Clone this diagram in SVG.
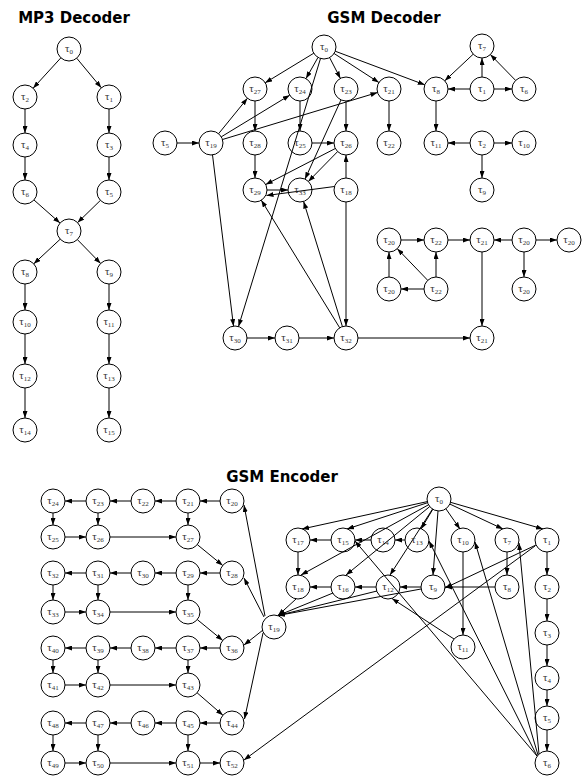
<svg xmlns="http://www.w3.org/2000/svg" width="583" height="776" viewBox="0 0 583 776">
<style>
.title{font-family:"DejaVu Sans",Verdana,sans-serif;font-weight:bold;font-size:15px;fill:#000;text-anchor:middle}
.node circle{fill:none;stroke:#000;stroke-width:1}
.node text{font-family:"Liberation Serif","Times New Roman",serif;font-size:11px;fill:#333;text-anchor:middle}
.node tspan{font-size:7px}
#connectors path{fill:none;stroke:#000;stroke-width:1}
</style>
<defs>
<marker id="a" viewBox="0 0 7 5" refX="7" refY="2.5" markerWidth="7" markerHeight="5" orient="auto" markerUnits="userSpaceOnUse"><path d="M0,0 L7,2.5 L0,5 z" fill="#000"/></marker>
</defs>
<rect width="583" height="776" fill="#fff"/>
<text class="title" x="74" y="23">MP3 Decoder</text>
<text class="title" x="384" y="23">GSM Decoder</text>
<text class="title" x="282" y="482">GSM Encoder</text>

<g id="connectors" marker-end="url(#a)">
<!-- MP3 -->
<path d="M60.9 57.8L33.1 88.2"/>
<path d="M76.7 58.2L101.3 87.8"/>
<path d="M25 109L25 133"/>
<path d="M25 157L25 180"/>
<path d="M109 109L109 133"/>
<path d="M109 157L109 180"/>
<path d="M34 200L60 223"/>
<path d="M100.4 200.4L77.6 222.6"/>
<path d="M60.2 239.2L33.8 263.8"/>
<path d="M77.4 239.6L100.6 263.4"/>
<path d="M25 284L25 310"/>
<path d="M25 334L25 364"/>
<path d="M25 388L25 418"/>
<path d="M109 284L109 310"/>
<path d="M109 334L109 364"/>
<path d="M109 388L109 418"/>
<!-- GSM decoder -->
<path d="M313.8 53.2L265.2 82.8"/>
<path d="M318 57.4L306 78.6"/>
<path d="M329.6 57.6L340.4 78.4"/>
<path d="M334.1 53.5L378.9 82.5"/>
<path d="M335.2 51.2L424.8 84.8"/>
<path d="M320.5 58.5L238.5 326.5"/>
<path d="M177 143L199 143"/>
<path d="M218.6 133.7L247.4 98.3"/>
<path d="M221.3 136.8L289.7 95.2"/>
<path d="M222.5 139.5L377.5 92.5"/>
<path d="M212.5 154.9L233.5 326.1"/>
<path d="M255 101L255 131"/>
<path d="M255 155L255 178"/>
<path d="M300 101L300 131"/>
<path d="M312 143L334 143"/>
<path d="M346 101L346 131"/>
<path d="M341 99.9L305 179.1"/>
<path d="M335.3 148.5L265.7 184.5"/>
<path d="M337.6 151.6L308.4 181.4"/>
<path d="M267 190L288 190"/>
<path d="M346 178L346 155"/>
<path d="M334.5 186.5L266.5 195.5"/>
<path d="M339.7 327.8L261.3 200.2"/>
<path d="M342.4 326.5L303.6 201.5"/>
<path d="M346 202L346 326"/>
<path d="M247 338L275 338"/>
<path d="M299 338L334 338"/>
<path d="M358 338L470 338"/>
<path d="M482 77L482 58"/>
<path d="M470 89L448 89"/>
<path d="M494 89L512 89"/>
<path d="M473.2 54.2L444.8 80.8"/>
<path d="M515.6 80.4L490.4 54.6"/>
<path d="M436 101L436 131"/>
<path d="M389 101L389 131"/>
<path d="M470 143L448 143"/>
<path d="M494 143L512 143"/>
<path d="M482 155L482 178"/>
<path d="M401 240L424 240"/>
<path d="M448 240L470 240"/>
<path d="M512 240L494 240"/>
<path d="M536 240L557 240"/>
<path d="M524 252L524 277"/>
<path d="M389 277L389 252"/>
<path d="M436 277L436 252"/>
<path d="M424 289L401 289"/>
<path d="M427.7 280.3L397.3 248.7"/>
<path d="M482 252L482 326"/>
<!-- GSM encoder left grid -->
<path d="M220 501L200 501"/>
<path d="M176 501L155 501"/>
<path d="M131 501L110 501"/>
<path d="M86 501L65 501"/>
<path d="M53 513L53 525"/>
<path d="M98 513L98 525"/>
<path d="M188 513L188 525"/>
<path d="M65 537L86 537"/>
<path d="M110 537L176 537"/>
<path d="M197.3 544.6L222.7 565.4"/>
<path d="M220 573L200 573"/>
<path d="M176 573L155 573"/>
<path d="M131 573L110 573"/>
<path d="M86 573L65 573"/>
<path d="M53 585L53 600"/>
<path d="M98 585L98 600"/>
<path d="M188 585L188 600"/>
<path d="M65 612L86 612"/>
<path d="M110 612L176 612"/>
<path d="M197.3 619.6L222.7 640.4"/>
<path d="M220 648L200 648"/>
<path d="M176 648L155 648"/>
<path d="M131 648L110 648"/>
<path d="M86 648L65 648"/>
<path d="M53 660L53 673"/>
<path d="M98 660L98 673"/>
<path d="M188 660L188 673"/>
<path d="M65 685L86 685"/>
<path d="M110 685L176 685"/>
<path d="M197.1 692.8L222.9 715.2"/>
<path d="M220 723L200 723"/>
<path d="M176 723L155 723"/>
<path d="M131 723L110 723"/>
<path d="M86 723L65 723"/>
<path d="M53 735L53 751"/>
<path d="M98 735L98 751"/>
<path d="M188 735L188 751"/>
<path d="M65 763L86 763"/>
<path d="M110 763L176 763"/>
<path d="M200 763L220 763"/>
<!-- tau19 -->
<path d="M265 616L244 505"/>
<path d="M264 617L244 578"/>
<path d="M263 630L244 645"/>
<path d="M263 633L244.5 719"/>
<path d="M296 599L278 615.5"/>
<path d="M333 593L278 615.5"/>
<path d="M377 591L278 615.5"/>
<path d="M421 589L278 615.5"/>
<!-- tau0 encoder -->
<path d="M427.3 501.6L302 529"/>
<path d="M427.6 502.7L347 529"/>
<path d="M432.8 509.3L421 529"/>
<path d="M428.5 504.8L301 575"/>
<path d="M429.7 506.6L346 575"/>
<path d="M432.5 509.1L390 575"/>
<path d="M438 511L433 575"/>
<path d="M445.9 508.8L460 529"/>
<path d="M449.9 504.1L503 529"/>
<path d="M450.5 502.3L543 529"/>
<!-- rows -->
<path d="M298 552L298 575"/>
<path d="M331 540L310 540"/>
<path d="M371 540L355 540"/>
<path d="M405 540L395 540"/>
<path d="M331 587L310 587"/>
<path d="M376 587L355 587"/>
<path d="M421 587L400 587"/>
<path d="M495 587L445 587"/>
<path d="M507 552L507 575"/>
<path d="M463 552L463 635"/>
<path d="M547 552L547 575"/>
<path d="M547 599L547 621"/>
<path d="M547 645L547 666"/>
<path d="M547 690L547 706"/>
<path d="M547 730L547 751"/>
<path d="M536 545L445 588"/>
<path d="M535 546L244 760"/>
<path d="M454 639L392 598.5"/>
<path d="M537 756L355 541"/>
<path d="M537 756L429 541"/>
<path d="M538 755L475 542"/>
<path d="M539 754L519 543"/>
</g>

<!-- MP3 nodes -->
<g id="mp3-t0" class="node"><circle cx="69" cy="49" r="12"/><text x="69" y="51.5">τ<tspan dy="2.5">0</tspan></text></g>
<g id="mp3-t1" class="node"><circle cx="109" cy="97" r="12"/><text x="109" y="99.5">τ<tspan dy="2.5">1</tspan></text></g>
<g id="mp3-t2" class="node"><circle cx="25" cy="97" r="12"/><text x="25" y="99.5">τ<tspan dy="2.5">2</tspan></text></g>
<g id="mp3-t3" class="node"><circle cx="109" cy="145" r="12"/><text x="109" y="147.5">τ<tspan dy="2.5">3</tspan></text></g>
<g id="mp3-t4" class="node"><circle cx="25" cy="145" r="12"/><text x="25" y="147.5">τ<tspan dy="2.5">4</tspan></text></g>
<g id="mp3-t5" class="node"><circle cx="109" cy="192" r="12"/><text x="109" y="194.5">τ<tspan dy="2.5">5</tspan></text></g>
<g id="mp3-t6" class="node"><circle cx="25" cy="192" r="12"/><text x="25" y="194.5">τ<tspan dy="2.5">6</tspan></text></g>
<g id="mp3-t7" class="node"><circle cx="69" cy="231" r="12"/><text x="69" y="233.5">τ<tspan dy="2.5">7</tspan></text></g>
<g id="mp3-t8" class="node"><circle cx="25" cy="272" r="12"/><text x="25" y="274.5">τ<tspan dy="2.5">8</tspan></text></g>
<g id="mp3-t9" class="node"><circle cx="109" cy="272" r="12"/><text x="109" y="274.5">τ<tspan dy="2.5">9</tspan></text></g>
<g id="mp3-t10" class="node"><circle cx="25" cy="322" r="12"/><text x="25" y="324.5">τ<tspan dy="2.5">10</tspan></text></g>
<g id="mp3-t11" class="node"><circle cx="109" cy="322" r="12"/><text x="109" y="324.5">τ<tspan dy="2.5">11</tspan></text></g>
<g id="mp3-t12" class="node"><circle cx="25" cy="376" r="12"/><text x="25" y="378.5">τ<tspan dy="2.5">12</tspan></text></g>
<g id="mp3-t13" class="node"><circle cx="109" cy="376" r="12"/><text x="109" y="378.5">τ<tspan dy="2.5">13</tspan></text></g>
<g id="mp3-t14" class="node"><circle cx="25" cy="430" r="12"/><text x="25" y="432.5">τ<tspan dy="2.5">14</tspan></text></g>
<g id="mp3-t15" class="node"><circle cx="109" cy="430" r="12"/><text x="109" y="432.5">τ<tspan dy="2.5">15</tspan></text></g>

<!-- GSM decoder nodes -->
<g id="dec-t0" class="node"><circle cx="324" cy="47" r="12"/><text x="324" y="49.5">τ<tspan dy="2.5">0</tspan></text></g>
<g id="dec-t27" class="node"><circle cx="255" cy="89" r="12"/><text x="255" y="91.5">τ<tspan dy="2.5">27</tspan></text></g>
<g id="dec-t24" class="node"><circle cx="300" cy="89" r="12"/><text x="300" y="91.5">τ<tspan dy="2.5">24</tspan></text></g>
<g id="dec-t23" class="node"><circle cx="346" cy="89" r="12"/><text x="346" y="91.5">τ<tspan dy="2.5">23</tspan></text></g>
<g id="dec-t21a" class="node"><circle cx="389" cy="89" r="12"/><text x="389" y="91.5">τ<tspan dy="2.5">21</tspan></text></g>
<g id="dec-t8" class="node"><circle cx="436" cy="89" r="12"/><text x="436" y="91.5">τ<tspan dy="2.5">8</tspan></text></g>
<g id="dec-t1" class="node"><circle cx="482" cy="89" r="12"/><text x="482" y="91.5">τ<tspan dy="2.5">1</tspan></text></g>
<g id="dec-t6" class="node"><circle cx="524" cy="89" r="12"/><text x="524" y="91.5">τ<tspan dy="2.5">6</tspan></text></g>
<g id="dec-t7" class="node"><circle cx="482" cy="46" r="12"/><text x="482" y="48.5">τ<tspan dy="2.5">7</tspan></text></g>
<g id="dec-t5" class="node"><circle cx="165" cy="143" r="12"/><text x="165" y="145.5">τ<tspan dy="2.5">5</tspan></text></g>
<g id="dec-t19" class="node"><circle cx="211" cy="143" r="12"/><text x="211" y="145.5">τ<tspan dy="2.5">19</tspan></text></g>
<g id="dec-t28" class="node"><circle cx="255" cy="143" r="12"/><text x="255" y="145.5">τ<tspan dy="2.5">28</tspan></text></g>
<g id="dec-t25" class="node"><circle cx="300" cy="143" r="12"/><text x="300" y="145.5">τ<tspan dy="2.5">25</tspan></text></g>
<g id="dec-t26" class="node"><circle cx="346" cy="143" r="12"/><text x="346" y="145.5">τ<tspan dy="2.5">26</tspan></text></g>
<g id="dec-t22a" class="node"><circle cx="389" cy="143" r="12"/><text x="389" y="145.5">τ<tspan dy="2.5">22</tspan></text></g>
<g id="dec-t11" class="node"><circle cx="436" cy="143" r="12"/><text x="436" y="145.5">τ<tspan dy="2.5">11</tspan></text></g>
<g id="dec-t2" class="node"><circle cx="482" cy="143" r="12"/><text x="482" y="145.5">τ<tspan dy="2.5">2</tspan></text></g>
<g id="dec-t10" class="node"><circle cx="524" cy="143" r="12"/><text x="524" y="145.5">τ<tspan dy="2.5">10</tspan></text></g>
<g id="dec-t29" class="node"><circle cx="255" cy="190" r="12"/><text x="255" y="192.5">τ<tspan dy="2.5">29</tspan></text></g>
<g id="dec-t33" class="node"><circle cx="300" cy="190" r="12"/><text x="300" y="192.5">τ<tspan dy="2.5">33</tspan></text></g>
<g id="dec-t18" class="node"><circle cx="346" cy="190" r="12"/><text x="346" y="192.5">τ<tspan dy="2.5">18</tspan></text></g>
<g id="dec-t9" class="node"><circle cx="482" cy="190" r="12"/><text x="482" y="192.5">τ<tspan dy="2.5">9</tspan></text></g>
<g id="dec-t20a" class="node"><circle cx="389" cy="240" r="12"/><text x="389" y="242.5">τ<tspan dy="2.5">20</tspan></text></g>
<g id="dec-t22b" class="node"><circle cx="436" cy="240" r="12"/><text x="436" y="242.5">τ<tspan dy="2.5">22</tspan></text></g>
<g id="dec-t21b" class="node"><circle cx="482" cy="240" r="12"/><text x="482" y="242.5">τ<tspan dy="2.5">21</tspan></text></g>
<g id="dec-t20b" class="node"><circle cx="524" cy="240" r="12"/><text x="524" y="242.5">τ<tspan dy="2.5">20</tspan></text></g>
<g id="dec-t20c" class="node"><circle cx="569" cy="240" r="12"/><text x="569" y="242.5">τ<tspan dy="2.5">20</tspan></text></g>
<g id="dec-t20d" class="node"><circle cx="389" cy="289" r="12"/><text x="389" y="291.5">τ<tspan dy="2.5">20</tspan></text></g>
<g id="dec-t22c" class="node"><circle cx="436" cy="289" r="12"/><text x="436" y="291.5">τ<tspan dy="2.5">22</tspan></text></g>
<g id="dec-t20e" class="node"><circle cx="524" cy="289" r="12"/><text x="524" y="291.5">τ<tspan dy="2.5">20</tspan></text></g>
<g id="dec-t30" class="node"><circle cx="235" cy="338" r="12"/><text x="235" y="340.5">τ<tspan dy="2.5">30</tspan></text></g>
<g id="dec-t31" class="node"><circle cx="287" cy="338" r="12"/><text x="287" y="340.5">τ<tspan dy="2.5">31</tspan></text></g>
<g id="dec-t32" class="node"><circle cx="346" cy="338" r="12"/><text x="346" y="340.5">τ<tspan dy="2.5">32</tspan></text></g>
<g id="dec-t21c" class="node"><circle cx="482" cy="338" r="12"/><text x="482" y="340.5">τ<tspan dy="2.5">21</tspan></text></g>

<!-- GSM encoder nodes -->
<g id="enc-t20" class="node"><circle cx="232" cy="501" r="12"/><text x="232" y="503.5">τ<tspan dy="2.5">20</tspan></text></g>
<g id="enc-t21" class="node"><circle cx="188" cy="501" r="12"/><text x="188" y="503.5">τ<tspan dy="2.5">21</tspan></text></g>
<g id="enc-t22" class="node"><circle cx="143" cy="501" r="12"/><text x="143" y="503.5">τ<tspan dy="2.5">22</tspan></text></g>
<g id="enc-t23" class="node"><circle cx="98" cy="501" r="12"/><text x="98" y="503.5">τ<tspan dy="2.5">23</tspan></text></g>
<g id="enc-t24" class="node"><circle cx="53" cy="501" r="12"/><text x="53" y="503.5">τ<tspan dy="2.5">24</tspan></text></g>
<g id="enc-t25" class="node"><circle cx="53" cy="537" r="12"/><text x="53" y="539.5">τ<tspan dy="2.5">25</tspan></text></g>
<g id="enc-t26" class="node"><circle cx="98" cy="537" r="12"/><text x="98" y="539.5">τ<tspan dy="2.5">26</tspan></text></g>
<g id="enc-t27" class="node"><circle cx="188" cy="537" r="12"/><text x="188" y="539.5">τ<tspan dy="2.5">27</tspan></text></g>
<g id="enc-t28" class="node"><circle cx="232" cy="573" r="12"/><text x="232" y="575.5">τ<tspan dy="2.5">28</tspan></text></g>
<g id="enc-t29" class="node"><circle cx="188" cy="573" r="12"/><text x="188" y="575.5">τ<tspan dy="2.5">29</tspan></text></g>
<g id="enc-t30" class="node"><circle cx="143" cy="573" r="12"/><text x="143" y="575.5">τ<tspan dy="2.5">30</tspan></text></g>
<g id="enc-t31" class="node"><circle cx="98" cy="573" r="12"/><text x="98" y="575.5">τ<tspan dy="2.5">31</tspan></text></g>
<g id="enc-t32" class="node"><circle cx="53" cy="573" r="12"/><text x="53" y="575.5">τ<tspan dy="2.5">32</tspan></text></g>
<g id="enc-t33" class="node"><circle cx="53" cy="612" r="12"/><text x="53" y="614.5">τ<tspan dy="2.5">33</tspan></text></g>
<g id="enc-t34" class="node"><circle cx="98" cy="612" r="12"/><text x="98" y="614.5">τ<tspan dy="2.5">34</tspan></text></g>
<g id="enc-t35" class="node"><circle cx="188" cy="612" r="12"/><text x="188" y="614.5">τ<tspan dy="2.5">35</tspan></text></g>
<g id="enc-t36" class="node"><circle cx="232" cy="648" r="12"/><text x="232" y="650.5">τ<tspan dy="2.5">36</tspan></text></g>
<g id="enc-t37" class="node"><circle cx="188" cy="648" r="12"/><text x="188" y="650.5">τ<tspan dy="2.5">37</tspan></text></g>
<g id="enc-t38" class="node"><circle cx="143" cy="648" r="12"/><text x="143" y="650.5">τ<tspan dy="2.5">38</tspan></text></g>
<g id="enc-t39" class="node"><circle cx="98" cy="648" r="12"/><text x="98" y="650.5">τ<tspan dy="2.5">39</tspan></text></g>
<g id="enc-t40" class="node"><circle cx="53" cy="648" r="12"/><text x="53" y="650.5">τ<tspan dy="2.5">40</tspan></text></g>
<g id="enc-t41" class="node"><circle cx="53" cy="685" r="12"/><text x="53" y="687.5">τ<tspan dy="2.5">41</tspan></text></g>
<g id="enc-t42" class="node"><circle cx="98" cy="685" r="12"/><text x="98" y="687.5">τ<tspan dy="2.5">42</tspan></text></g>
<g id="enc-t43" class="node"><circle cx="188" cy="685" r="12"/><text x="188" y="687.5">τ<tspan dy="2.5">43</tspan></text></g>
<g id="enc-t44" class="node"><circle cx="232" cy="723" r="12"/><text x="232" y="725.5">τ<tspan dy="2.5">44</tspan></text></g>
<g id="enc-t45" class="node"><circle cx="188" cy="723" r="12"/><text x="188" y="725.5">τ<tspan dy="2.5">45</tspan></text></g>
<g id="enc-t46" class="node"><circle cx="143" cy="723" r="12"/><text x="143" y="725.5">τ<tspan dy="2.5">46</tspan></text></g>
<g id="enc-t47" class="node"><circle cx="98" cy="723" r="12"/><text x="98" y="725.5">τ<tspan dy="2.5">47</tspan></text></g>
<g id="enc-t48" class="node"><circle cx="53" cy="723" r="12"/><text x="53" y="725.5">τ<tspan dy="2.5">48</tspan></text></g>
<g id="enc-t49" class="node"><circle cx="53" cy="763" r="12"/><text x="53" y="765.5">τ<tspan dy="2.5">49</tspan></text></g>
<g id="enc-t50" class="node"><circle cx="98" cy="763" r="12"/><text x="98" y="765.5">τ<tspan dy="2.5">50</tspan></text></g>
<g id="enc-t51" class="node"><circle cx="188" cy="763" r="12"/><text x="188" y="765.5">τ<tspan dy="2.5">51</tspan></text></g>
<g id="enc-t52" class="node"><circle cx="232" cy="763" r="12"/><text x="232" y="765.5">τ<tspan dy="2.5">52</tspan></text></g>
<g id="enc-t19" class="node"><circle cx="274" cy="627" r="12"/><text x="274" y="629.5">τ<tspan dy="2.5">19</tspan></text></g>
<g id="enc-t0" class="node"><circle cx="439" cy="499" r="12"/><text x="439" y="501.5">τ<tspan dy="2.5">0</tspan></text></g>
<g id="enc-t17" class="node"><circle cx="298" cy="540" r="12"/><text x="298" y="542.5">τ<tspan dy="2.5">17</tspan></text></g>
<g id="enc-t15" class="node"><circle cx="343" cy="540" r="12"/><text x="343" y="542.5">τ<tspan dy="2.5">15</tspan></text></g>
<g id="enc-t14" class="node"><circle cx="383" cy="540" r="12"/><text x="383" y="542.5">τ<tspan dy="2.5">14</tspan></text></g>
<g id="enc-t13" class="node"><circle cx="417" cy="540" r="12"/><text x="417" y="542.5">τ<tspan dy="2.5">13</tspan></text></g>
<g id="enc-t10" class="node"><circle cx="463" cy="540" r="12"/><text x="463" y="542.5">τ<tspan dy="2.5">10</tspan></text></g>
<g id="enc-t7" class="node"><circle cx="507" cy="540" r="12"/><text x="507" y="542.5">τ<tspan dy="2.5">7</tspan></text></g>
<g id="enc-t1" class="node"><circle cx="547" cy="540" r="12"/><text x="547" y="542.5">τ<tspan dy="2.5">1</tspan></text></g>
<g id="enc-t18" class="node"><circle cx="298" cy="587" r="12"/><text x="298" y="589.5">τ<tspan dy="2.5">18</tspan></text></g>
<g id="enc-t16" class="node"><circle cx="343" cy="587" r="12"/><text x="343" y="589.5">τ<tspan dy="2.5">16</tspan></text></g>
<g id="enc-t12" class="node"><circle cx="388" cy="587" r="12"/><text x="388" y="589.5">τ<tspan dy="2.5">12</tspan></text></g>
<g id="enc-t9" class="node"><circle cx="433" cy="587" r="12"/><text x="433" y="589.5">τ<tspan dy="2.5">9</tspan></text></g>
<g id="enc-t8" class="node"><circle cx="507" cy="587" r="12"/><text x="507" y="589.5">τ<tspan dy="2.5">8</tspan></text></g>
<g id="enc-t2" class="node"><circle cx="547" cy="587" r="12"/><text x="547" y="589.5">τ<tspan dy="2.5">2</tspan></text></g>
<g id="enc-t3" class="node"><circle cx="547" cy="633" r="12"/><text x="547" y="635.5">τ<tspan dy="2.5">3</tspan></text></g>
<g id="enc-t11" class="node"><circle cx="463" cy="647" r="12"/><text x="463" y="649.5">τ<tspan dy="2.5">11</tspan></text></g>
<g id="enc-t4" class="node"><circle cx="547" cy="678" r="12"/><text x="547" y="680.5">τ<tspan dy="2.5">4</tspan></text></g>
<g id="enc-t5" class="node"><circle cx="547" cy="718" r="12"/><text x="547" y="720.5">τ<tspan dy="2.5">5</tspan></text></g>
<g id="enc-t6" class="node"><circle cx="547" cy="763" r="12"/><text x="547" y="765.5">τ<tspan dy="2.5">6</tspan></text></g>
</svg>
